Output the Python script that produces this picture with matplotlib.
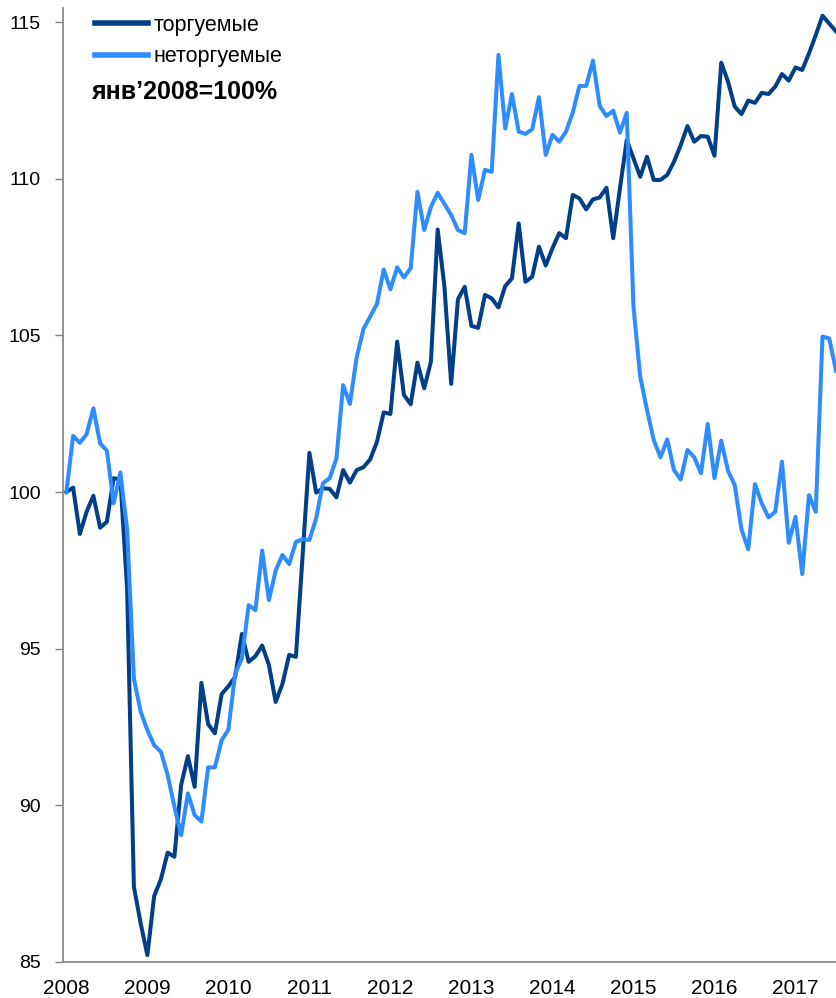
import matplotlib
matplotlib.use("Agg")
import matplotlib.pyplot as plt
import numpy as np

plt.rcParams['font.family'] = ['Liberation Sans', 'DejaVu Sans']

year_labels = ["2008", "2009", "2010", "2011", "2012", "2013", "2014", "2015", "2016", "2017"]

tradable = [
    100.0, 100.14, 98.66, 99.37, 99.88, 98.86, 99.05, 100.44, 100.4, 96.9,
    87.4, 86.24, 85.22, 87.1, 87.64, 88.49, 88.36, 90.65, 91.57, 90.59,
    93.91, 92.59, 92.3, 93.55, 93.8, 94.1, 95.47, 94.58, 94.76, 95.1,
    94.48, 93.3, 93.87, 94.8, 94.74, 98.0, 101.25, 99.98, 100.12, 100.1,
    99.83, 100.7, 100.3, 100.7, 100.79, 101.04, 101.6, 102.54, 102.49, 104.8,
    103.1, 102.8, 104.13, 103.31, 104.16, 108.38, 106.55, 103.45, 106.15, 106.55,
    105.3, 105.24, 106.29, 106.18, 105.89, 106.57, 106.82, 108.57, 106.71, 106.87,
    107.83, 107.23, 107.78, 108.26, 108.1, 109.48, 109.37, 109.02, 109.34, 109.4,
    109.71, 108.1, 109.69, 111.23, 110.65, 110.06, 110.7, 109.96, 109.96, 110.12,
    110.54, 111.07, 111.68, 111.18, 111.36, 111.34, 110.73, 113.7, 113.1, 112.3,
    112.06, 112.49, 112.42, 112.74, 112.7, 112.94, 113.34, 113.13, 113.55, 113.47,
    114.0, 114.58, 115.2, 114.95, 114.7,
]

nontradable = [
    100.0, 101.79, 101.57, 101.85, 102.67, 101.55, 101.32, 99.64, 100.62, 98.79,
    94.05, 92.99, 92.4, 91.92, 91.71, 90.97, 89.96, 89.05, 90.38, 89.69,
    89.48, 91.21, 91.21, 92.08, 92.42, 94.2, 94.69, 96.39, 96.23, 98.13,
    96.55, 97.49, 97.99, 97.7, 98.41, 98.49, 98.47, 99.16, 100.28, 100.44,
    101.07, 103.41, 102.81, 104.3, 105.2, 105.6, 106.0, 107.1, 106.47, 107.17,
    106.85, 107.14, 109.58, 108.36, 109.1, 109.55, 109.19, 108.84, 108.36, 108.26,
    110.76, 109.32, 110.28, 110.22, 113.95, 111.6, 112.7, 111.5, 111.43, 111.58,
    112.6, 110.76, 111.4, 111.18, 111.5, 112.1, 112.96, 112.96, 113.77, 112.32,
    112.0, 112.17, 111.47, 112.1, 105.91, 103.68, 102.62, 101.66, 101.11, 101.68,
    100.7, 100.4, 101.34, 101.11, 100.6, 102.17, 100.44, 101.64, 100.68, 100.22,
    98.81, 98.17, 100.25, 99.64, 99.19, 99.37, 100.97, 98.38, 99.21, 97.38,
    99.9, 99.37, 104.96, 104.9, 103.87,
]

series_names = ["торгуемые", "неторгуемые"]
note = "янв’2008=100%"

dark = "#023F86"
light = "#2F8CFF"

fig = plt.figure(figsize=(8.36, 9.98), dpi=100)
ax = fig.add_axes([63 / 836, 36 / 998, 1 - 63 / 836, (962 - 8) / 998])

x = np.arange(len(tradable))
ax.plot(x, tradable, color=dark, lw=2.9, solid_joinstyle='round', label=series_names[0])
ax.plot(x, nontradable, color=light, lw=2.9, solid_joinstyle='round', label=series_names[1])

ax.set_xlim(-0.5, len(tradable) - 1)
ax.set_ylim(85, 115 + 14 / 31.33)
ax.set_yticks([85, 90, 95, 100, 105, 110, 115])
ax.set_xticks(np.arange(0, len(tradable), 12))
ax.set_xticklabels(year_labels)

for s in ["top", "right"]:
    ax.spines[s].set_visible(False)
ax.spines["left"].set_color("#808080")
ax.spines["bottom"].set_color("#808080")
ax.spines["left"].set_linewidth(1.2)
ax.spines["bottom"].set_linewidth(1.2)
ax.tick_params(axis="y", direction="out", length=6, width=1, color="#808080",
               labelsize=14, pad=10)
ax.tick_params(axis="x", length=0, labelsize=15, pad=12)

leg = ax.legend(loc="upper left", bbox_to_anchor=(95 / 836, 1 - 15 / 998),
                bbox_transform=fig.transFigure, frameon=False, fontsize=15.5,
                handlelength=2.47, handletextpad=0.23, labelspacing=0.47,
                borderaxespad=0, borderpad=0)
for line in leg.get_lines():
    line.set_linewidth(4)

fig.text(92 / 836, 1 - 92 / 998, note, fontsize=18, fontweight="bold",
         va="center", ha="left")

fig.savefig("out.png", dpi=100)
